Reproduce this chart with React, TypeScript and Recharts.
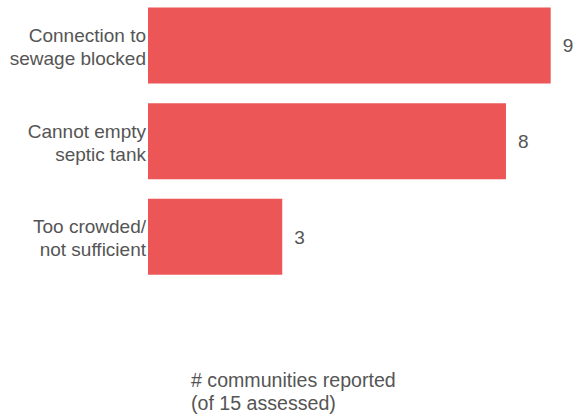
import React from "react";
import { BarChart, Bar, XAxis, YAxis, LabelList } from "recharts";

const categories = ["Connection to\nsewage blocked", "Cannot empty\nseptic tank", "Too crowded/\nnot sufficient"];
const values = [9, 8, 3];
const axisLabelLines = ["# communities reported", "(of 15 assessed)"];

const data = categories.map((c, i) => ({ name: c, value: values[i] }));

const FONT = "'Liberation Sans', Arial, sans-serif";
const TEXT_COLOR = "#555555";
const FONT_SIZE = 19;

const CategoryTick = (props: any) => {
  const { x, y, payload } = props;
  const tx = x + 4;
  const lines = String(payload.value).split("\n");
  return (
    <text x={tx} y={y} textAnchor="end" fill={TEXT_COLOR} fontFamily={FONT} fontSize={FONT_SIZE}>
      {lines.map((l, i) => (
        <tspan key={i} x={tx} y={y - 3.5 + i * 23.3}>
          {l}
        </tspan>
      ))}
    </text>
  );
};

const AxisTitle = () => (
  <text x={191} y={386.7} fill={TEXT_COLOR} fontFamily={FONT} fontSize={19.6} textAnchor="start">
    {axisLabelLines.map((l, i) => (
      <tspan key={i} x={191} y={386.7 + i * 23}>
        {l}
      </tspan>
    ))}
  </text>
);

export default function App() {
  return (
    <div style={{ position: "absolute", left: 0, top: 0 }}>
      <BarChart
        width={573}
        height={414}
        data={data}
        layout="vertical"
        margin={{ top: -2.5, right: 22.3, bottom: 0, left: 0 }}
      >
        <XAxis
          type="number"
          domain={[0, 9]}
          axisLine={false}
          tickLine={false}
          tick={false}
          height={129.5}
          label={{ content: () => <AxisTitle /> }}
        />
        <YAxis
          type="category"
          dataKey="name"
          width={148}
          axisLine={false}
          tickLine={false}
          tickMargin={0}
          tick={<CategoryTick />}
        />
        <Bar dataKey="value" fill="#EC5656" barSize={76} isAnimationActive={false}>
          <LabelList
            dataKey="value"
            position="right"
            offset={12}
            fill={TEXT_COLOR}
            fontFamily={FONT}
            fontSize={FONT_SIZE}
          />
        </Bar>
      </BarChart>
    </div>
  );
}
